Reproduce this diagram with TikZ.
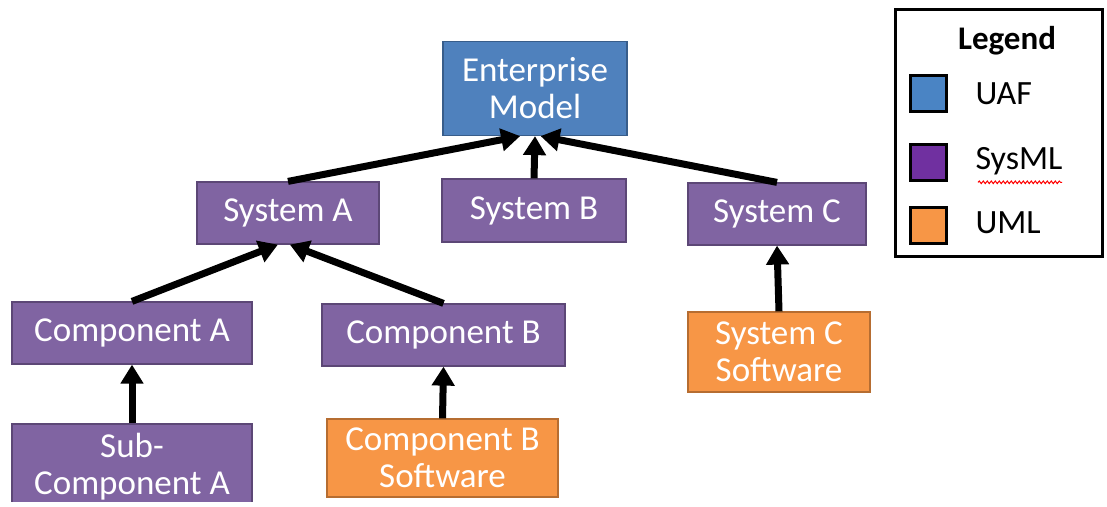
\documentclass[tikz,border=0pt]{standalone}
\usepackage{fontspec}
\setmainfont{Carlito}
\usetikzlibrary{arrows.meta,decorations.pathmorphing,calc}
\definecolor{uafblue}{HTML}{4F81BD}
\definecolor{uafedge}{HTML}{385D8A}
\definecolor{sysfill}{HTML}{8064A2}
\definecolor{sysedge}{HTML}{5C4776}
\definecolor{umlfill}{HTML}{F79646}
\definecolor{umledge}{HTML}{B66D31}
\definecolor{legpurple}{HTML}{7030A0}
\definecolor{legblue}{HTML}{4A84C4}
\begin{document}
\begin{tikzpicture}[x=1pt,y=-1pt,
  box/.style={draw, line width=1.2pt, text=white, align=center, inner sep=0pt,
    font=\fontsize{35}{37}\selectfont},
  uaf/.style={box, fill=uafblue, draw=uafedge},
  sysml/.style={box, fill=sysfill, draw=sysedge},
  uml/.style={box, fill=umlfill, draw=umledge},
  link/.style={line width=7pt, -{Triangle[length=19pt,width=22pt]}},
  swatch/.style={draw=black, line width=3pt, minimum width=36pt, minimum height=36pt, inner sep=0pt},
  legtext/.style={anchor=west, font=\fontsize{34}{36}\selectfont}]
\useasboundingbox (0,0) rectangle (1107,506);
\begin{scope}
\clip (0,0) rectangle (1107,501);
% hierarchy boxes
\node[uaf, minimum width=184pt, minimum height=94pt] (em) at (535,88.5) {Enterprise\\Model};
\node[sysml, minimum width=182pt, minimum height=62pt] (sa) at (288,213) {System A};
\node[sysml, minimum width=184pt, minimum height=63pt] (sb) at (534,210.5) {System B};
\node[sysml, minimum width=178pt, minimum height=62pt] (sc) at (777,214) {System C};
\node[sysml, minimum width=240pt, minimum height=62pt] (ca) at (132,333) {Component A};
\node[sysml, minimum width=243pt, minimum height=62pt] (cb) at (443.5,335) {Component B};
\node[sysml, minimum width=240pt, minimum height=86pt] (sca) at (132,467) {Sub-\\Component A};
\node[uml, minimum width=231pt, minimum height=78pt] (cbs) at (442.5,458) {Component B\\Software};
\node[uml, minimum width=182pt, minimum height=80pt] (scs) at (779,352) {System C\\Software};
\end{scope}
% containment arrows
\draw[link] (sa.north) -- ($(em.south west)!0.42!(em.south east)$);
\draw[link] (sb.north) -- (em.south);
\draw[link] (sc.north) -- ($(em.south west)!0.53!(em.south east)$);
\draw[link] (ca.north) -- ($(sa.south west)!0.445!(sa.south east)$);
\draw[link] (cb.north) -- ($(sa.south west)!0.51!(sa.south east)$);
\draw[link] (sca.north) -- (ca.south);
\draw[link] (cbs.north) -- (cb.south);
\draw[link] (scs.north) -- (sc.south);
% legend
\node[draw=black, line width=3.5pt, minimum width=207pt, minimum height=247pt, inner sep=0pt] (leg) at (999,133) {};
\node[font=\bfseries\fontsize{33}{35}\selectfont] (legtitle) at (1007,41) {Legend};
\node[swatch, fill=legblue] (s1) at (928,93) {};
\node[swatch, fill=legpurple] (s2) at (928,162) {};
\node[swatch, fill=umlfill] (s3) at (928,225) {};
\node[legtext] (t1) at (972,94) {UAF};
\node[legtext] (t2) at (972,161) {SysML};
\node[legtext] (t3) at (972,223) {UML};
\draw[red, line width=1pt, decorate, decoration={snake, amplitude=1.3pt, segment length=4pt}]
  ([xshift=6pt,yshift=-4pt]t2.south west) -- ([xshift=-4pt,yshift=-4pt]t2.south east);
\end{tikzpicture}
\end{document}
